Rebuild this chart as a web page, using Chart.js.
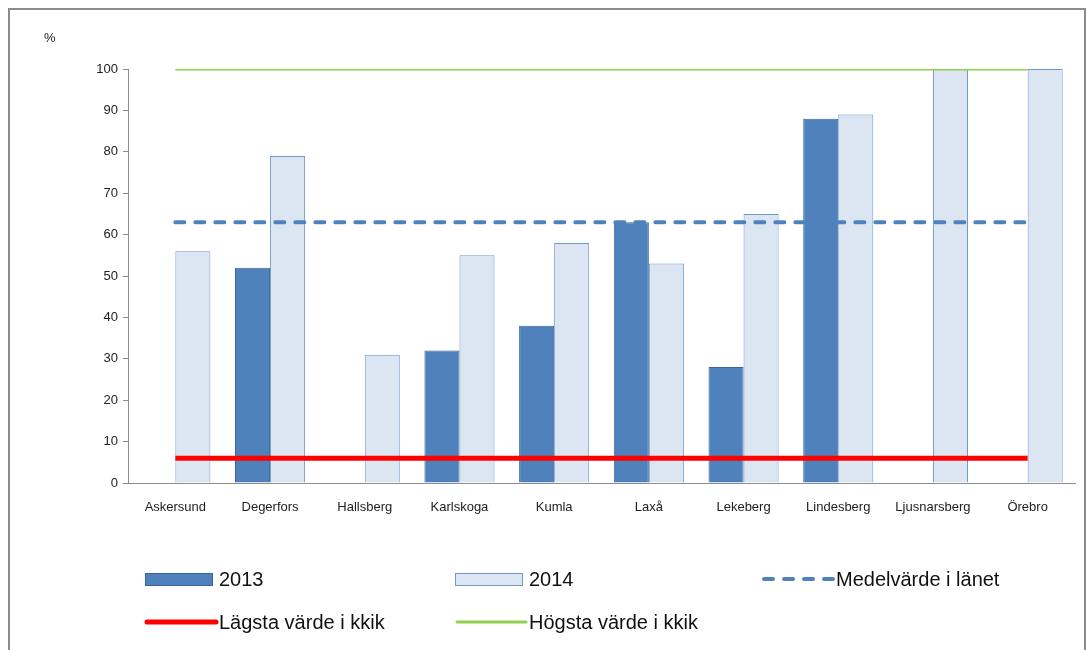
<!DOCTYPE html>
<html>
<head>
<meta charset="utf-8">
<script src="https://cdn.jsdelivr.net/npm/chart.js@4"></script>
<style>
body{margin:0;background:#fff;}
#wrap{position:relative;width:1089px;height:650px;}
</style>
</head>
<body>
<div id="wrap"><canvas id="c" width="1089" height="650"></canvas></div>
<script>
var kommuner=['Askersund','Degerfors','Hallsberg','Karlskoga','Kumla','Laxå','Lekeberg','Lindesberg','Ljusnarsberg','Örebro'];
var v2013=[null,52,null,32,38,63,28,88,null,null];
var v2014=[56,79,31,55,58,53,65,89,100,100];
var medel=[63,63,63,63,63,63,63,63,63,63];
var lagsta=[6,6,6,6,6,6,6,6,6,6];
var hogsta=[100,100,100,100,100,100,100,100,100,100];
var yTicks=[0,10,20,30,40,50,60,70,80,90,100];

var font='"Liberation Sans", Arial, sans-serif';

// frame, % label and the two-row legend
var extras={
	id:'extras',
	afterDraw:function(chart){
		var ctx=chart.ctx;
		ctx.save();
		ctx.strokeStyle='#8c8c8c';
		ctx.lineWidth=2;
		ctx.strokeRect(9,9,1076,700);
		ctx.fillStyle='#222';
		ctx.font='13px '+font;
		ctx.textBaseline='middle';
		ctx.fillText('%',44,38);

		var ds=chart.data.datasets;
		var cols=[145,455,762];
		var rows=[579,622];
		ctx.font='20px '+font;
		for (var i=0;i<ds.length;i++) {
			var x=cols[i%3], y=rows[Math.floor(i/3)];
			var d=ds[i];
			if (d.type==='line') {
				ctx.beginPath();
				ctx.strokeStyle=d.borderColor;
				ctx.lineWidth=d.borderWidth;
				ctx.lineCap='round';
				ctx.setLineDash(d.borderDash||[]);
				ctx.moveTo(x+2,y);
				ctx.lineTo(x+71,y);
				ctx.stroke();
				ctx.setLineDash([]);
			} else {
				ctx.fillStyle=d.backgroundColor;
				ctx.fillRect(x,y-6,68,13);
				ctx.strokeStyle=d.borderColor;
				ctx.lineWidth=1;
				ctx.strokeRect(x+0.5,y-5.5,67,12);
			}
			ctx.fillStyle='#111';
			ctx.textAlign='left';
			ctx.fillText(d.label,x+74,y+1);
		}
		ctx.restore();
	}
};

var chart=new Chart(document.getElementById('c'),{
	type:'bar',
	data:{
		labels:kommuner,
		datasets:[
			{label:'2013',data:v2013,backgroundColor:'#4F81BD',borderColor:'#3A659A',borderWidth:1,order:4,
				categoryPercentage:0.74,barPercentage:1},
			{label:'2014',data:v2014,backgroundColor:'#DCE6F2',borderColor:'#7198CD',borderWidth:1,order:5,
				categoryPercentage:0.74,barPercentage:1},
			{type:'line',label:'Medelvärde i länet',data:medel,borderColor:'#4F81BD',borderWidth:4,
				borderDash:[9,11],borderCapStyle:'round',pointRadius:0,fill:false,order:1},
			{type:'line',label:'Lägsta värde i kkik',data:lagsta,borderColor:'#FF0000',borderWidth:5,
				pointRadius:0,fill:false,order:2},
			{type:'line',label:'Högsta värde i kkik',data:hogsta,borderColor:'#92D050',borderWidth:3,
				pointRadius:0,fill:false,order:3}
		]
	},
	options:{
		responsive:false,
		animation:false,
		layout:{padding:{top:69,right:14,left:0,bottom:0}},
		plugins:{legend:{display:false},tooltip:{enabled:false},title:{display:false}},
		scales:{
			x:{
				grid:{display:false},
				border:{display:true,color:'#8c8c8c',width:1},
				ticks:{color:'#222',font:{family:font,size:13},padding:9,maxRotation:0,autoSkip:false},
				afterFit:function(s){s.height=167;}
			},
			y:{
				min:0,max:100,
				afterBuildTicks:function(s){s.ticks=yTicks.map(function(v){return {value:v};});},
				grid:{drawOnChartArea:false,drawTicks:true,tickLength:5,color:'#8c8c8c'},
				border:{display:true,color:'#8c8c8c',width:1},
				ticks:{color:'#222',font:{family:font,size:13},padding:5},
				afterFit:function(s){s.width=128;}
			}
		}
	},
	plugins:[extras]
});
</script>
</body>
</html>
